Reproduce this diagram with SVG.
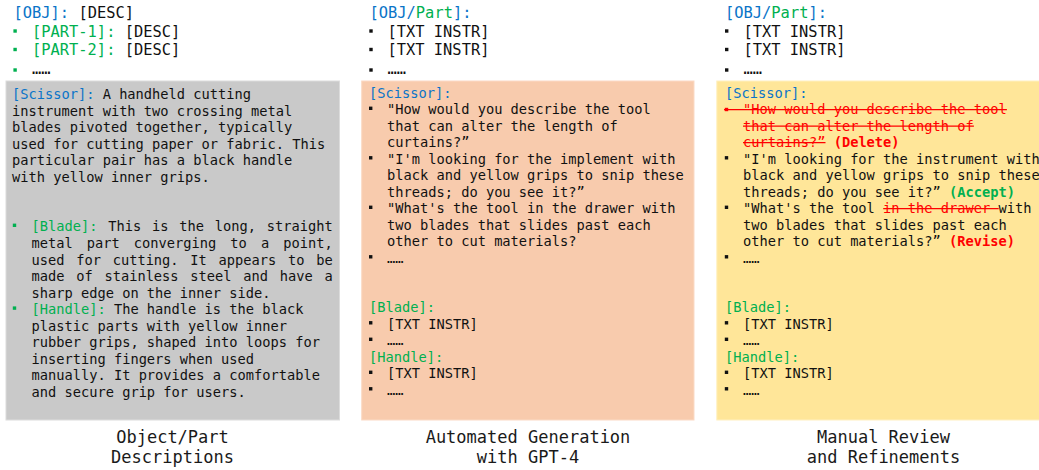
<svg xmlns="http://www.w3.org/2000/svg" width="1039" height="470" viewBox="0 0 1039 470">
<style>
text{font-family:"DejaVu Sans Mono","Liberation Mono",monospace;white-space:pre;fill:#111}
.b{font-size:13.7px}
.h{font-size:15.4px}
.cap{font-size:17px;text-anchor:middle;fill:#1a1a1a}
.blue{fill:#0a74c8}
.green{fill:#00b050}
.red{fill:#ff0000}
.bold{font-weight:bold}
.bul{fill:#111}
.gbul{fill:#00b050}
.rbul{fill:#ff0000}
.strike{stroke:#ff0000;stroke-width:1.3}
</style>
<rect width="1039" height="470" fill="#ffffff"/>

<g id="panel-descriptions">
<text class="h" x="13.5" y="17.5"><tspan class="blue">[OBJ]:</tspan> [DESC]</text>
<rect class="gbul" x="13.4" y="29.3" width="3.4" height="3.4"/>
<text class="h" x="32" y="36.5"><tspan class="green">[PART-1]:</tspan> [DESC]</text>
<rect class="gbul" x="13.4" y="47.8" width="3.4" height="3.4"/>
<text class="h" x="32" y="55"><tspan class="green">[PART-2]:</tspan> [DESC]</text>
<rect class="gbul" x="13.4" y="68.3" width="3.4" height="3.4"/>
<text class="h" x="32" y="73.5">……</text>

<rect x="6" y="81" width="333.5" height="339" fill="#c9c9c9" stroke="#dcdcdc" stroke-width="1"/>
<text class="b" x="12" y="99"><tspan class="blue">[Scissor]:</tspan> A handheld cutting</text>
<text class="b" x="12" y="115.55">instrument with two crossing metal</text>
<text class="b" x="12" y="132.1">blades pivoted together, typically</text>
<text class="b" x="12" y="148.65">used for cutting paper or fabric. This</text>
<text class="b" x="12" y="165.2">particular pair has a black handle</text>
<text class="b" x="12" y="181.75">with yellow inner grips.</text>

<rect class="gbul" x="12.8" y="223.6" width="3.4" height="3.4"/>
<text class="b" x="31.5" y="231.4" style="word-spacing:2.56px"><tspan class="green">[Blade]:</tspan> This is the long, straight</text>
<text class="b" x="31.5" y="247.95" style="word-spacing:5.86px">metal part converging to a point,</text>
<text class="b" x="31.5" y="264.5" style="word-spacing:3.5px">used for cutting. It appears to be</text>
<text class="b" x="31.5" y="281.05" style="word-spacing:3.5px">made of stainless steel and have a</text>
<text class="b" x="31.5" y="297.6">sharp edge on the inner side.</text>
<rect class="gbul" x="12.8" y="306.4" width="3.4" height="3.4"/>
<text class="b" x="31.5" y="314.15"><tspan class="green">[Handle]:</tspan> The handle is the black</text>
<text class="b" x="31.5" y="330.7">plastic parts with yellow inner</text>
<text class="b" x="31.5" y="347.25">rubber grips, shaped into loops for</text>
<text class="b" x="31.5" y="363.8">inserting fingers when used</text>
<text class="b" x="31.5" y="380.35">manually. It provides a comfortable</text>
<text class="b" x="31.5" y="396.9">and secure grip for users.</text>

<text class="cap" x="172.5" y="443">Object/Part</text>
<text class="cap" x="172.5" y="462.5">Descriptions</text>
</g>

<g id="panel-generation">
<text class="h" x="369.5" y="17.5"><tspan class="blue">[OBJ/</tspan><tspan class="green">Part</tspan><tspan class="blue">]:</tspan></text>
<rect class="bul" x="369.3" y="29.3" width="3.4" height="3.4"/>
<text class="h" x="387.5" y="36.5">[TXT INSTR]</text>
<rect class="bul" x="369.3" y="47.8" width="3.4" height="3.4"/>
<text class="h" x="387.5" y="55">[TXT INSTR]</text>
<rect class="bul" x="369.3" y="68.3" width="3.4" height="3.4"/>
<text class="h" x="387.5" y="73.5">……</text>

<rect x="361.7" y="81" width="332.3" height="339" fill="#f8cbad" stroke="#fbdac5" stroke-width="1"/>
<text class="b" x="369" y="97.7"><tspan class="blue">[Scissor]:</tspan></text>
<rect class="bul" x="369" y="106.6" width="3.4" height="3.4"/>
<text class="b" x="387" y="114.2">"How would you describe the tool</text>
<text class="b" x="387" y="130.7">that can alter the length of</text>
<text class="b" x="387" y="147.2">curtains?”</text>
<rect class="bul" x="369" y="156.1" width="3.4" height="3.4"/>
<text class="b" x="387" y="163.7">"I'm looking for the implement with</text>
<text class="b" x="387" y="180.2">black and yellow grips to snip these</text>
<text class="b" x="387" y="196.7">threads; do you see it?”</text>
<rect class="bul" x="369" y="205.6" width="3.4" height="3.4"/>
<text class="b" x="387" y="213.2">"What's the tool in the drawer with</text>
<text class="b" x="387" y="229.7">two blades that slides past each</text>
<text class="b" x="387" y="246.2">other to cut materials?</text>
<rect class="bul" x="369" y="255.1" width="3.4" height="3.4"/>
<text class="b" x="387" y="262.7">……</text>
<text class="b" x="369" y="312.2"><tspan class="green">[Blade]:</tspan></text>
<rect class="bul" x="369" y="321.1" width="3.4" height="3.4"/>
<text class="b" x="387" y="328.7">[TXT INSTR]</text>
<rect class="bul" x="369" y="337.6" width="3.4" height="3.4"/>
<text class="b" x="387" y="345.2">……</text>
<text class="b" x="369" y="361.7"><tspan class="green">[Handle]:</tspan></text>
<rect class="bul" x="369" y="370.6" width="3.4" height="3.4"/>
<text class="b" x="387" y="378.2">[TXT INSTR]</text>
<rect class="bul" x="369" y="387.1" width="3.4" height="3.4"/>
<text class="b" x="387" y="394.7">……</text>

<text class="cap" x="528" y="443">Automated Generation</text>
<text class="cap" x="528" y="462.5">with GPT-4</text>
</g>

<g id="panel-review">
<text class="h" x="725" y="17.5"><tspan class="blue">[OBJ/</tspan><tspan class="green">Part</tspan><tspan class="blue">]:</tspan></text>
<rect class="bul" x="725" y="29.3" width="3.4" height="3.4"/>
<text class="h" x="743.5" y="36.5">[TXT INSTR]</text>
<rect class="bul" x="725" y="47.8" width="3.4" height="3.4"/>
<text class="h" x="743.5" y="55">[TXT INSTR]</text>
<rect class="bul" x="725" y="68.3" width="3.4" height="3.4"/>
<text class="h" x="743.5" y="73.5">……</text>

<rect x="716.8" y="81" width="333" height="339" fill="#ffe699" stroke="#fff0c0" stroke-width="1"/>
<text class="b" x="725" y="97.7"><tspan class="blue">[Scissor]:</tspan></text>
<rect class="rbul" x="724.8" y="107.8" width="3.4" height="3.4"/>
<text class="b red" x="743" y="114.2">"How would you describe the tool</text>
<text class="b red" x="743" y="130.7">that can alter the length of</text>
<text class="b" x="743" y="147.2"><tspan class="red">curtains?”</tspan> <tspan class="red bold">(Delete)</tspan></text>
<line class="strike" x1="724" y1="109.7" x2="1006.9" y2="109.7"/>
<line class="strike" x1="743" y1="126.2" x2="973.9" y2="126.2"/>
<line class="strike" x1="743" y1="142.7" x2="825.5" y2="142.7"/>
<rect class="bul" x="724.8" y="156.1" width="3.4" height="3.4"/>
<text class="b" x="743" y="163.7">"I'm looking for the instrument with</text>
<text class="b" x="743" y="180.2">black and yellow grips to snip these</text>
<text class="b" x="743" y="196.7">threads; do you see it?” <tspan class="green bold">(Accept)</tspan></text>
<rect class="bul" x="724.8" y="205.6" width="3.4" height="3.4"/>
<text class="b" x="743" y="213.2">"What's the tool <tspan class="red">in the drawer </tspan>with</text>
<line class="strike" x1="883.2" y1="208.7" x2="998.7" y2="208.7"/>
<text class="b" x="743" y="229.7">two blades that slides past each</text>
<text class="b" x="743" y="246.2">other to cut materials?” <tspan class="red bold">(Revise)</tspan></text>
<rect class="bul" x="724.8" y="255.1" width="3.4" height="3.4"/>
<text class="b" x="743" y="262.7">……</text>
<text class="b" x="725" y="312.2"><tspan class="green">[Blade]:</tspan></text>
<rect class="bul" x="724.8" y="321.1" width="3.4" height="3.4"/>
<text class="b" x="743" y="328.7">[TXT INSTR]</text>
<rect class="bul" x="724.8" y="337.6" width="3.4" height="3.4"/>
<text class="b" x="743" y="345.2">……</text>
<text class="b" x="725" y="361.7"><tspan class="green">[Handle]:</tspan></text>
<rect class="bul" x="724.8" y="370.6" width="3.4" height="3.4"/>
<text class="b" x="743" y="378.2">[TXT INSTR]</text>
<rect class="bul" x="724.8" y="387.1" width="3.4" height="3.4"/>
<text class="b" x="743" y="394.7">……</text>

<text class="cap" x="883.5" y="443">Manual Review</text>
<text class="cap" x="883.5" y="462.5">and Refinements</text>
</g>

<g id="connectors"></g>
</svg>
